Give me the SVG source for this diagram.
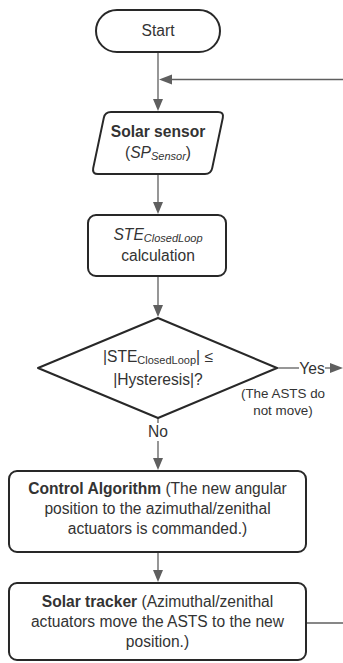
<svg xmlns="http://www.w3.org/2000/svg" width="343" height="663" viewBox="0 0 343 663">
<style>
.shape{fill:#fff;stroke:#282828;stroke-width:2;stroke-linejoin:round}
.conn{stroke:#5f5f5f;stroke-width:1.3;fill:none}
.head{fill:#5f5f5f}
text{font-family:"Liberation Sans",Arial,sans-serif;font-size:15.6px;fill:#333;text-anchor:middle}
.b{font-weight:bold}
.i{font-style:italic}
.sub{font-size:11px}
.small{font-size:13.4px}
</style>
<rect width="343" height="663" fill="#fff"/>
<g id="connectors">
<line class="conn" x1="158" y1="52" x2="158" y2="101"/>
<polygon class="head" points="153,99 163,99 158,111"/>
<line class="conn" x1="343" y1="79.5" x2="171" y2="79.5"/>
<polygon class="head" points="172,74.5 172,84.5 159,79.5"/>
<line class="conn" x1="158" y1="174" x2="158" y2="204"/>
<polygon class="head" points="153,202 163,202 158,214"/>
<line class="conn" x1="158" y1="276" x2="158" y2="307"/>
<polygon class="head" points="153,305 163,305 158,317"/>
<line class="conn" x1="277" y1="368" x2="299" y2="368"/>
<text x="312" y="373.5">Yes</text>
<line class="conn" x1="325" y1="368" x2="332" y2="368"/>
<polygon class="head" points="330,363 330,373 343,368"/>
<text class="small" x="283" y="398">(The ASTS do</text>
<text class="small" x="283" y="415">not move)</text>
<line class="conn" x1="158" y1="418" x2="158" y2="423"/>
<text x="158" y="437">No</text>
<line class="conn" x1="158" y1="441" x2="158" y2="460"/>
<polygon class="head" points="153,458 163,458 158,470"/>
<line class="conn" x1="158" y1="552" x2="158" y2="572"/>
<polygon class="head" points="153,570 163,570 158,582"/>
<line class="conn" x1="306" y1="623" x2="343" y2="623"/>
</g>
<g id="start">
<rect class="shape" x="96" y="10" width="124" height="42" rx="21"/>
<text x="158" y="36">Start</text>
</g>
<g id="solar-sensor">
<path class="shape" d="M111,112 L218,112 Q224,112 222.8,117.9 L212.2,168.1 Q211,174 205,174 L98,174 Q92,174 93.2,168.1 L103.8,117.9 Q105,112 111,112 Z"/>
<text class="b" x="158" y="137">Solar sensor</text>
<text x="158" y="158">(<tspan class="i">SP</tspan><tspan class="i sub" dy="2">Sensor</tspan><tspan dy="-2">)</tspan></text>
</g>
<g id="ste-calc">
<rect class="shape" x="88" y="215" width="138" height="61" rx="8"/>
<text x="158" y="240"><tspan class="i">STE</tspan><tspan class="i sub" dy="2">ClosedLoop</tspan></text>
<text x="158" y="261">calculation</text>
</g>
<g id="decision">
<polygon class="shape" points="158,318 277,368 158,418 38,368"/>
<text x="158" y="362">|STE<tspan class="sub" dy="2">ClosedLoop</tspan><tspan dy="-2">| ≤</tspan></text>
<text x="158" y="385">|Hysteresis|?</text>
</g>
<g id="control-algorithm">
<rect class="shape" x="9" y="471" width="297" height="81" rx="8"/>
<text x="157.5" y="494"><tspan class="b">Control Algorithm</tspan> (The new angular</text>
<text x="157.5" y="514">position to the azimuthal/zenithal</text>
<text x="157.5" y="534">actuators is commanded.)</text>
</g>
<g id="solar-tracker">
<rect class="shape" x="9" y="583" width="297" height="77" rx="8"/>
<text x="157.5" y="607"><tspan class="b">Solar tracker</tspan> (Azimuthal/zenithal</text>
<text x="157.5" y="627">actuators move the ASTS to the new</text>
<text x="157.5" y="647">position.)</text>
</g>
</svg>
